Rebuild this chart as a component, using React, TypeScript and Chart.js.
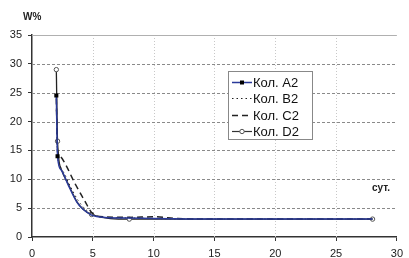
import React, { useEffect, useRef } from "react";
import { Chart, registerables } from "chart.js";

Chart.register(...registerables);

const xTicks = [0, 5, 10, 15, 20, 25, 30];
const yTicks = [0, 5, 10, 15, 20, 25, 30, 35];

const seriesNames = ["Кол. A2", "Кол. B2", "Кол. C2", "Кол. D2"];

const a2X = [2, 2.1, 2.4, 3, 3.7, 4.2, 4.9, 6, 8, 10, 15, 20, 28];
const a2Y = [24.5, 14, 11.6, 8.9, 6, 4.8, 3.8, 3.4, 3.3, 3.2, 3.1, 3.1, 3.1];
const a2Marked = [1, 1, 0, 0, 0, 0, 0, 0, 0, 0, 0, 0, 0];

const b2X = [2, 2.1, 2.5, 3.1, 3.8, 4.4, 5, 6, 8, 10, 15, 20, 28];
const b2Y = [22, 14, 11.5, 9, 6.3, 4.8, 3.9, 3.4, 3.3, 3.2, 3.1, 3.1, 3.1];

const c2X = [2, 2.1, 2.3, 2.7, 3.5, 4.3, 5.1, 6, 8, 10, 12, 15, 20, 28];
const c2Y = [24, 15, 14, 12.8, 9.4, 6.4, 3.8, 3.5, 3.4, 3.5, 3.2, 3.1, 3.1, 3.1];

const d2X = [2, 2.1, 2.4, 3, 3.7, 4.2, 4.9, 8, 28];
const d2Y = [29, 16.6, 11.8, 9.1, 6.1, 4.8, 3.9, 3.1, 3.1];
const d2Marked = [1, 1, 0, 0, 0, 0, 1, 1, 1];

const yTitle = "W%";
const xTitle = "сут.";

const FONT = "'Liberation Sans', Arial, sans-serif";

const pts = (xs: number[], ys: number[]) => xs.map((x, i) => ({ x, y: ys[i] }));

const customPlugin = {
  id: "custom",
  beforeDatasetsDraw(chart: any) {
    const { ctx, chartArea, scales } = chart;
    const xs = scales.x;
    const ys = scales.y;
    ctx.save();
    ctx.strokeStyle = "#c8c8c8";
    ctx.lineWidth = 1;
    ctx.setLineDash([1, 2]);
    xTicks.forEach((t) => {
      if (t === 0 || t === 30) return;
      const px = Math.round(xs.getPixelForValue(t)) + 0.5;
      ctx.beginPath();
      ctx.moveTo(px, chartArea.top);
      ctx.lineTo(px, chartArea.bottom);
      ctx.stroke();
    });
    yTicks.forEach((t) => {
      if (t === 0) return;
      const py = Math.round(ys.getPixelForValue(t)) + 0.5;
      if (t === 35) {
        ctx.setLineDash([]);
        ctx.strokeStyle = "#b0b0b0";
      } else {
        ctx.setLineDash([3, 2]);
        ctx.strokeStyle = "#8a8a8a";
      }
      ctx.beginPath();
      ctx.moveTo(chartArea.left, py);
      ctx.lineTo(chartArea.right, py);
      ctx.stroke();
    });
    ctx.restore();
  },
  afterDraw(chart: any) {
    const { ctx, chartArea } = chart;
    ctx.save();
    ctx.fillStyle = "#222";
    ctx.font = `bold 10px ${FONT}`;
    ctx.textBaseline = "middle";
    ctx.textAlign = "left";
    ctx.fillText(yTitle, 23, 17);
    ctx.fillText(xTitle, chartArea.right - 25, chartArea.top + 153);

    const lx = chartArea.left + 196;
    const ly = chartArea.top + 36;
    const lw = 84;
    const lh = 68;
    ctx.fillStyle = "#fff";
    ctx.fillRect(lx, ly, lw, lh);
    ctx.strokeStyle = "#888";
    ctx.lineWidth = 1;
    ctx.strokeRect(lx + 0.5, ly + 0.5, lw, lh);
    const rowH = 16.4;
    seriesNames.forEach((name, i) => {
      const cy = Math.round(ly + 11 + i * rowH) + 0.5;
      const x0 = lx + 4;
      const x1 = lx + 24;
      ctx.save();
      ctx.beginPath();
      if (i === 0) {
        ctx.strokeStyle = "#2a3a9a";
        ctx.lineWidth = 1.5;
        ctx.setLineDash([]);
      } else if (i === 1) {
        ctx.strokeStyle = "#222";
        ctx.lineWidth = 1;
        ctx.setLineDash([1.5, 3]);
      } else if (i === 2) {
        ctx.strokeStyle = "#222";
        ctx.lineWidth = 1.5;
        ctx.setLineDash([6, 4]);
      } else {
        ctx.strokeStyle = "#333";
        ctx.lineWidth = 1.2;
        ctx.setLineDash([]);
      }
      ctx.moveTo(x0, cy);
      ctx.lineTo(x1, cy);
      ctx.stroke();
      ctx.setLineDash([]);
      const mx = (x0 + x1) / 2;
      if (i === 0) {
        ctx.fillStyle = "#000";
        ctx.fillRect(mx - 2, cy - 2, 4, 4);
      } else if (i === 3) {
        ctx.beginPath();
        ctx.arc(mx, cy, 2.2, 0, Math.PI * 2);
        ctx.fillStyle = "#fff";
        ctx.fill();
        ctx.strokeStyle = "#555";
        ctx.lineWidth = 1;
        ctx.stroke();
      }
      ctx.restore();
      ctx.fillStyle = "#111";
      ctx.font = `13px ${FONT}`;
      ctx.textAlign = "left";
      ctx.textBaseline = "middle";
      ctx.fillText(name, x1 + 1, cy + 0.5);
    });
    ctx.restore();
  },
};

export default function App() {
  const ref = useRef<HTMLCanvasElement | null>(null);
  useEffect(() => {
    if (!ref.current) return;
    const chart = new Chart(ref.current, {
      type: "scatter",
      data: {
        datasets: [
          {
            label: seriesNames[0],
            data: pts(a2X, a2Y),
            showLine: true,
            borderColor: "#2a3a9a",
            borderWidth: 1.5,
            pointStyle: "rect",
            pointRadius: a2Marked.map((m) => (m ? 1.8 : 0)),
            pointBackgroundColor: "#000",
            pointBorderColor: "#000",
            cubicInterpolationMode: "monotone",
          },
          {
            label: seriesNames[1],
            data: pts(b2X, b2Y),
            showLine: true,
            borderColor: "#222",
            borderWidth: 1,
            borderDash: [1.5, 3],
            pointRadius: 0,
            cubicInterpolationMode: "monotone",
          },
          {
            label: seriesNames[2],
            data: pts(c2X, c2Y),
            showLine: true,
            borderColor: "#222",
            borderWidth: 1.5,
            borderDash: [6, 4],
            pointRadius: 0,
            cubicInterpolationMode: "monotone",
          },
          {
            label: seriesNames[3],
            data: pts(d2X, d2Y),
            showLine: true,
            borderColor: "#222",
            borderWidth: 1.3,
            pointRadius: d2Marked.map((m) => (m ? 2.2 : 0)),
            pointBackgroundColor: "#fff",
            pointBorderColor: "#555",
            pointBorderWidth: 1,
            cubicInterpolationMode: "monotone",
          },
        ],
      },
      options: {
        animation: false,
        responsive: false,
        maintainAspectRatio: false,
        layout: { padding: { top: 35, right: 7, left: 0, bottom: 0 } },
        plugins: {
          legend: { display: false },
          tooltip: { enabled: false },
        },
        scales: {
          x: {
            type: "linear",
            min: 0,
            max: 30,
            afterBuildTicks: (s: any) => {
              s.ticks = xTicks.map((v) => ({ value: v }));
            },
            afterFit: (s: any) => {
              s.height = 21;
            },
            grid: {
              display: true,
              drawOnChartArea: false,
              drawTicks: true,
              tickLength: 4,
              tickColor: "#333",
              tickWidth: 1,
            },
            border: { display: true, color: "#333", width: 1.5 },
            ticks: {
              color: "#222",
              font: { family: FONT, size: 11 },
              padding: 6,
              maxRotation: 0,
            },
          },
          y: {
            type: "linear",
            min: 0,
            max: 35,
            afterBuildTicks: (s: any) => {
              s.ticks = yTicks.map((v) => ({ value: v }));
            },
            afterFit: (s: any) => {
              s.width = 32;
            },
            grid: {
              display: true,
              drawOnChartArea: false,
              drawTicks: true,
              tickLength: 4,
              tickColor: "#333",
              tickWidth: 1,
            },
            border: { display: true, color: "#333", width: 1.5 },
            ticks: {
              color: "#222",
              font: { family: FONT, size: 11 },
              padding: 6,
            },
          },
        },
      },
      plugins: [customPlugin],
    } as any);
    return () => chart.destroy();
  }, []);
  return (
    <div style={{ position: "fixed", left: 0, top: 0, width: 409, height: 258, background: "#fff" }}>
      <canvas ref={ref} width={409} height={258} style={{ width: 409, height: 258 }} />
    </div>
  );
}
